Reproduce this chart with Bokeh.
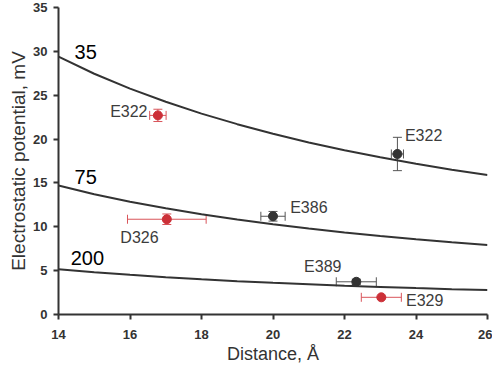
from bokeh.plotting import figure
from bokeh.models import ColumnDataSource, Whisker, TeeHead, Range1d, FixedTicker
from bokeh.core.properties import value
from bokeh.embed import file_html
from bokeh.resources import INLINE

dist = [14, 15, 16, 17, 18, 19, 20, 21, 22, 23, 24, 25, 26]
curve_35 = [29.4, 27.45, 25.75, 24.25, 22.9, 21.7, 20.6, 19.62, 18.73, 17.92, 17.18, 16.5, 15.9]
curve_75 = [14.7, 13.72, 12.86, 12.11, 11.43, 10.83, 10.29, 9.80, 9.35, 8.95, 8.58, 8.23, 7.92]
curve_200 = [5.16, 4.82, 4.52, 4.25, 4.01, 3.80, 3.61, 3.44, 3.28, 3.14, 3.01, 2.89, 2.78]
curve_names = ["35", "75", "200"]

# Measured points
red_names = ["E322", "D326", "E329"]
red_x = [16.78, 17.03, 23.03]
red_y = [22.7, 10.86, 1.96]
red_xerr = [0.23, 1.10, 0.56]
red_yerr = [0.70, 0.60, 0.0]

black_names = ["E322", "E386", "E389"]
black_x = [23.48, 20.0, 22.33]
black_y = [18.3, 11.2, 3.73]
black_xerr = [0.17, 0.34, 0.56]
black_yerr = [1.90, 0.55, 0.30]

RED = "#cc3038"
RED_BAR = "#d9545a"
DARK = "#333333"
FONT = "Liberation Sans"

p = figure(width=492, height=370, output_backend="svg", toolbar_location=None,
           x_range=Range1d(14, 26), y_range=Range1d(0, 35),
           min_border_left=58, min_border_right=5, min_border_top=7, min_border_bottom=56)
p.outline_line_color = None
p.xgrid.visible = False
p.ygrid.visible = False
p.background_fill_color = "white"

# curves
for ys in (curve_35, curve_75, curve_200):
    p.line(dist, ys, line_color=DARK, line_width=2)

# curve labels
p.text(x=[14.45, 14.45, 14.34], y=[29.95, 15.7, 6.4], text=curve_names,
       text_font=value(FONT), text_font_size="20px", text_color="black",
       text_baseline="middle", text_align="left")

def add_points(xs, ys, xerr, yerr, dot_color, bar_color):
    src = ColumnDataSource(dict(
        x=xs, y=ys,
        xl=[a - b for a, b in zip(xs, xerr)], xu=[a + b for a, b in zip(xs, xerr)],
        yl=[a - b for a, b in zip(ys, yerr)], yu=[a + b for a, b in zip(ys, yerr)],
    ))
    wx = Whisker(source=src, base="y", lower="xl", upper="xu", dimension="width",
                 line_color=bar_color, line_width=1,
                 lower_head=TeeHead(size=9, line_color=bar_color, line_width=1),
                 upper_head=TeeHead(size=9, line_color=bar_color, line_width=1))
    wy = Whisker(source=src, base="x", lower="yl", upper="yu", dimension="height",
                 line_color=bar_color, line_width=1,
                 lower_head=TeeHead(size=9, line_color=bar_color, line_width=1),
                 upper_head=TeeHead(size=9, line_color=bar_color, line_width=1))
    p.add_layout(wx)
    p.add_layout(wy)
    p.scatter("x", "y", source=src, size=9, fill_color=dot_color, line_color=dot_color)

add_points(red_x, red_y, red_xerr, red_yerr, RED, RED_BAR)
add_points(black_x, black_y, black_xerr, black_yerr, DARK, "#555555")

# point labels
lab_col = "#3c3c3c"
p.text(x=[16.49], y=[23.1], text=[red_names[0]], text_font=value(FONT), text_font_size="16px",
       text_color=lab_col, text_align="right", text_baseline="middle")
p.text(x=[15.73, 23.72], y=[8.78, 1.54], text=[red_names[1], red_names[2]],
       text_font=value(FONT), text_font_size="16px",
       text_color=lab_col, text_align="left", text_baseline="middle")
p.text(x=[23.69, 20.48, 20.87], y=[20.4, 12.17, 5.46], text=black_names,
       text_font=value(FONT), text_font_size="16px",
       text_color=lab_col, text_align="left", text_baseline="middle")

# axes
for ax in (p.xaxis[0], p.yaxis[0]):
    ax.axis_line_color = DARK
    ax.axis_line_width = 2
    ax.major_tick_line_color = DARK
    ax.major_tick_line_width = 2
    ax.major_tick_in = 0
    ax.major_tick_out = 5
    ax.minor_tick_line_color = None
    ax.major_label_text_font = FONT
    ax.major_label_text_font_size = "13px"
    ax.major_label_text_font_style = "bold"
    ax.major_label_text_color = DARK
    ax.axis_label_text_font = FONT
    ax.axis_label_text_font_style = "normal"
    ax.axis_label_text_color = DARK

p.xaxis[0].axis_label_text_font_size = "18px"
p.yaxis[0].axis_label_text_font_size = "19px"
p.xaxis[0].ticker = FixedTicker(ticks=[14, 16, 18, 20, 22, 24, 26])
p.yaxis[0].ticker = FixedTicker(ticks=[0, 5, 10, 15, 20, 25, 30, 35])
p.xaxis[0].axis_label = "Distance, Å"
p.yaxis[0].axis_label = "Electrostatic potential, mV"
p.xaxis[0].major_label_standoff = 10
p.yaxis[0].major_label_standoff = 6
p.xaxis[0].axis_label_standoff = 2
p.yaxis[0].axis_label_standoff = 1

open("out.html", "w").write(file_html(p, INLINE))
